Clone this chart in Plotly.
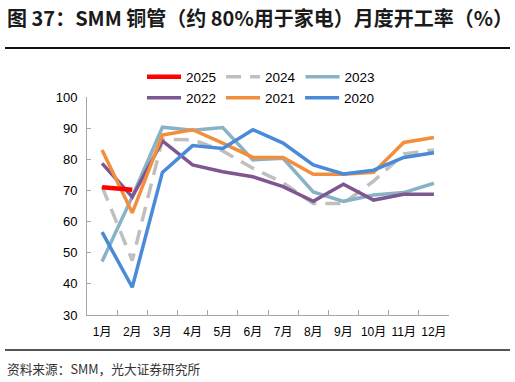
import plotly.graph_objects as go

months = ["1月", "2月", "3月", "4月", "5月", "6月", "7月", "8月", "9月", "10月", "11月", "12月"]
y2025 = [71.0, 70.2]
y2024 = [71.2, 47.5, 86.4, 86.3, 82.7, 77.1, 72.5, 65.8, 65.8, 73.0, 81.7, 83.0]
y2023 = [47.2, 68.0, 90.3, 89.3, 90.2, 79.8, 80.3, 69.5, 66.5, 68.5, 69.3, 72.3]
y2022 = [78.7, 67.9, 85.9, 78.2, 76.0, 74.4, 71.2, 66.5, 72.0, 66.9, 68.8, 68.8]
y2021 = [83.0, 62.8, 87.8, 89.5, 85.2, 80.6, 80.6, 75.2, 75.2, 75.8, 85.4, 87.0]
y2020 = [56.6, 38.9, 75.8, 84.4, 83.5, 89.5, 85.2, 78.2, 75.3, 76.5, 80.6, 82.1]
yticks = [30, 40, 50, 60, 70, 80, 90, 100]

W, H = 515, 382

def px2x(px):
    return px / W

def py2y(py):
    return (H - py) / H

fig = go.Figure()

series = [
    ("2024", y2024, "#BFBFBF", "15px,9px", "legend", 2, 3.5),
    ("2023", y2023, "#8AB2C6", "solid", "legend", 3, 3.5),
    ("2022", y2022, "#7E5690", "solid", "legend2", 4, 3.5),
    ("2021", y2021, "#F28E3C", "solid", "legend2", 5, 3.5),
    ("2020", y2020, "#4A8BD9", "solid", "legend2", 6, 3.5),
    ("2025", y2025, "#FF0000", "solid", "legend", 1, 4.5),
]
for name, ys, color, dash, lg, rank, wd in series:
    fig.add_trace(go.Scatter(
        x=months[:len(ys)], y=ys, name=name, mode="lines",
        line=dict(color=color, width=wd, dash=dash),
        legend=lg, legendrank=rank,
    ))

# empty helper subplots whose axis lines serve as the header / footer rules
for ax in ("2", "3"):
    fig.add_trace(go.Scatter(x=[], y=[], xaxis="x" + ax, yaxis="y" + ax,
                             showlegend=False, hoverinfo="skip"))

legend_common = dict(
    orientation="h", xanchor="left", yanchor="middle",
    font=dict(family="Liberation Sans, Arial, sans-serif", size=13.5, color="#000"),
    bgcolor="rgba(0,0,0,0)", itemwidth=34, tracegroupgap=0,
)

rule_axis = dict(showline=True, showticklabels=False, ticks="", showgrid=False,
                 zeroline=False, domain=[px2x(5), px2x(510)], range=[0, 1],
                 fixedrange=True)

fig.update_layout(
    width=W, height=H,
    margin=dict(l=0, r=0, t=0, b=0, autoexpand=False),
    paper_bgcolor="white", plot_bgcolor="rgba(0,0,0,0)",
    showlegend=True,
    legend=dict(x=px2x(142), y=py2y(77), **legend_common),
    legend2=dict(x=px2x(142), y=py2y(98), **legend_common),
    xaxis=dict(
        type="category", range=[-0.5, 11.5], domain=[px2x(87), px2x(449)],
        showline=True, linecolor="#A6A6A6", linewidth=1,
        ticks="inside", ticklen=5, tickcolor="#A6A6A6", tickson="boundaries",
        showgrid=False, zeroline=False, tickangle=0, ticklabelstandoff=6,
        tickfont=dict(family="Liberation Sans, Noto Sans CJK SC, sans-serif", size=12, color="#000"),
    ),
    yaxis=dict(
        range=[30, 100], domain=[py2y(315), py2y(97)],
        tickvals=yticks, ticktext=[str(v) for v in yticks],
        showline=True, linecolor="#A6A6A6", linewidth=1,
        ticks="inside", ticklen=4, tickcolor="#A6A6A6",
        showgrid=False, zeroline=False, ticklabelstandoff=6,
        tickfont=dict(family="Liberation Sans, Arial, sans-serif", size=13, color="#000"),
    ),
    xaxis2=dict(anchor="y2", linecolor="#111111", linewidth=1.5, **rule_axis),
    yaxis2=dict(anchor="x2", domain=[py2y(47), py2y(46)], visible=False, range=[0, 1]),
    xaxis3=dict(anchor="y3", linecolor="#555555", linewidth=1.5, **rule_axis),
    yaxis3=dict(anchor="x3", domain=[py2y(349), py2y(348)], visible=False, range=[0, 1]),
    annotations=[
        dict(text="<b>图 37：SMM 铜管（约 80%用于家电）月度开工率（%）</b>",
             xref="paper", yref="paper", x=px2x(5), y=py2y(17),
             xanchor="left", yanchor="middle", showarrow=False,
             font=dict(family="Noto Sans CJK SC, sans-serif", size=20, color="#1a1a1a")),
        dict(text="资料来源：SMM，光大证券研究所",
             xref="paper", yref="paper", x=px2x(5), y=py2y(368),
             xanchor="left", yanchor="middle", showarrow=False,
             font=dict(family="Noto Sans CJK SC, sans-serif", size=12.7, color="#333")),
    ],
)

fig.write_html("out.html", config={"displayModeBar": False})

# remove the default page margin so the figure fills the window exactly
with open("out.html", "r", encoding="utf-8") as f:
    html = f.read()
html = html.replace("<head>", "<head><style>html,body{margin:0;padding:0;overflow:hidden;}</style>", 1)
with open("out.html", "w", encoding="utf-8") as f:
    f.write(html)
